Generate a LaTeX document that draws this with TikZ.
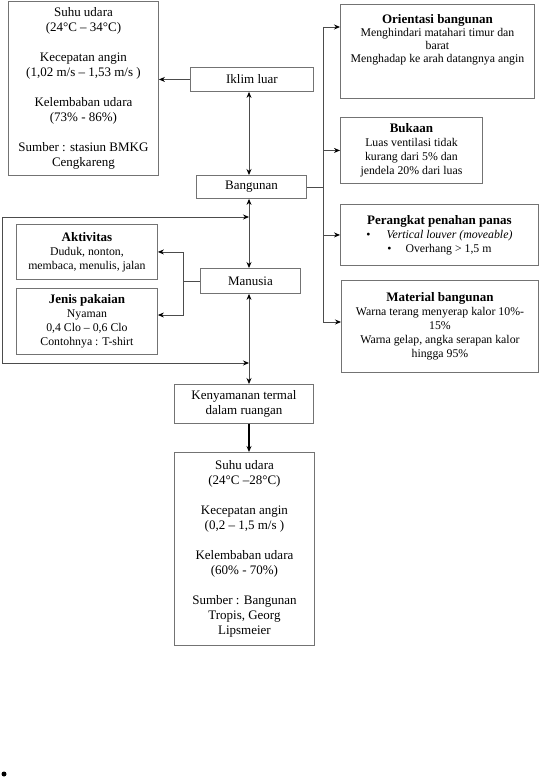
\documentclass[tikz,border=0pt]{standalone}
\usepackage{fontspec}
\setmainfont{Liberation Serif}
\usetikzlibrary{arrows.meta}
\newcommand{\bigtxt}{\fontsize{13}{15}\selectfont}
\newcommand{\smalltxt}{\fontsize{11.8}{14}\selectfont}
\newcommand{\boxtitle}[1]{{\fontsize{13}{14}\selectfont\bfseries #1}}

\begin{document}
\begin{tikzpicture}[x=1pt, y=-1pt, >={Stealth[length=6pt, width=5pt, color=black]},
  box/.style={draw=black!55, line width=0.9pt, align=center, inner sep=2pt,
              anchor=north west, font=\bigtxt},
  small/.style={box, font=\smalltxt},
  link/.style={draw=black!70, line width=0.8pt}]
  \useasboundingbox (0,0) rectangle (541,778);
  \node[box, minimum width=150pt, minimum height=174pt] (clim) at (8,1)
    {Suhu udara\\(24°C – 34°C)\\[15pt]Kecepatan angin\\(1,02 m/s – 1,53 m/s )\\[15pt]%
     Kelembaban udara\\(73\% - 86\%)\\[15pt]Sumber : stasiun BMKG\\Cengkareng};
  \node[box, minimum width=123pt, minimum height=24pt] (iklim) at (190,67) {Iklim luar};
  \node[box, minimum width=110pt, minimum height=23pt] (bang) at (196,175) {Bangunan};
  \node[box, minimum width=100pt, minimum height=25pt] (manusia) at (200,268) {Manusia};
  \node[box, minimum width=139pt, minimum height=39pt] (kenyam) at (174,384)
    {Kenyamanan termal\\dalam ruangan};
  \node[box, minimum width=140pt, minimum height=193pt] (bottom) at (174,452)
    {Suhu udara\\(24°C –28°C)\\[15pt]Kecepatan angin\\(0,2 – 1,5 m/s )\\[15pt]%
     Kelembaban udara\\(60\% - 70\%)\\[15pt]Sumber : Bangunan\\Tropis, Georg\\Lipsmeier};
  \node[small, minimum width=194pt, minimum height=94pt, font=\fontsize{11.8}{13}\selectfont] (orient) at (340,4)
    {\boxtitle{Orientasi bangunan}\\Menghindari matahari timur dan\\barat\\%
     Menghadap ke arah datangnya angin\\[13pt]\mbox{}};
  \node[small, minimum width=142pt, minimum height=66pt] (bukaan) at (340,117)
    {\boxtitle{Bukaan}\\Luas ventilasi tidak\\kurang dari 5\% dan\\jendela 20\% dari luas};
  \node[small, minimum width=198pt, minimum height=61pt] (perang) at (340,204)
    {\boxtitle{Perangkat penahan panas}\\\textbullet\hspace{16pt}\textit{Vertical louver (moveable)}\\%
     \textbullet\hspace{14pt}Overhang > 1,5 m};
  \node[small, minimum width=197pt, minimum height=92pt] (material) at (341,280)
    {\boxtitle{Material bangunan}\\Warna terang menyerap kalor 10\%-\\15\%\\%
     Warna gelap, angka serapan kalor\\hingga 95\%};
  \node[small, minimum width=141pt, minimum height=55pt] (aktiv) at (16,224)
    {\boxtitle{Aktivitas}\\Duduk, nonton,\\membaca, menulis, jalan};
  \node[small, minimum width=141pt, minimum height=66pt] (jenis) at (16,288)
    {\boxtitle{Jenis pakaian}\\Nyaman\\0,4 Clo – 0,6 Clo\\Contohnya : T-shirt};
  \coordinate (spine) at (249,0);
  \coordinate (trTop) at (323,27);
  \coordinate (trBot) at (323,322);
  \coordinate (fork) at (183,315);
  \coordinate (lpTop) at (2,217);
  \coordinate (lpBot) at (2,363);
  \draw[link, ->] (iklim.west) -- (iklim.west -| clim.east);
  \draw[link, <->] (iklim.south -| spine) -- (bang.north -| spine);
  \draw[link, <->] (bang.south -| spine) -- (manusia.north -| spine);
  \draw[link, <->] (manusia.south -| spine) -- (kenyam.north -| spine);
  \draw[link, ->, draw=black, line width=1.3pt] (kenyam.south -| spine) -- (bottom.north -| spine);
  \draw[link] (bang.east) -- (bang.east -| trTop);
  \draw[link] (trTop) -- (trBot);
  \draw[link, ->] (trTop) -- (trTop -| orient.west);
  \draw[link, ->] (bukaan.west -| trTop) -- (bukaan.west);
  \draw[link, ->] (perang.west -| trTop) -- (perang.west);
  \draw[link, ->] (trBot) -- (trBot -| material.west);
  \draw[link] (manusia.west) -- (manusia.west -| fork);
  \draw[link, <->] (aktiv.east) -| (fork) -- (fork -| jenis.east);
  \draw[link, <->] (lpTop -| spine) -- (lpTop) -- (lpBot) -- (lpBot -| spine);
  \fill (4,774) circle (2.5pt);
\end{tikzpicture}
\end{document}
